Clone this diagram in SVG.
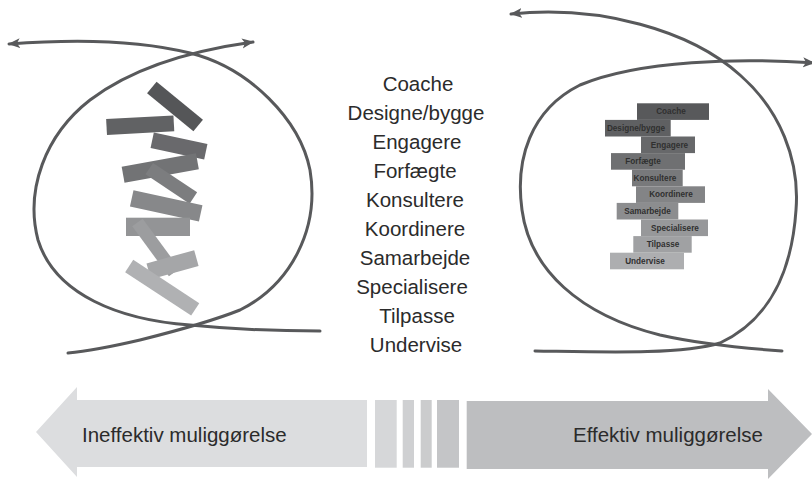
<svg xmlns="http://www.w3.org/2000/svg" width="812" height="479" viewBox="0 0 812 479">
<defs>
<marker id="ah" markerUnits="userSpaceOnUse" markerWidth="13" markerHeight="11" refX="11" refY="5.5" orient="auto-start-reverse">
<path d="M0,0.5 L12,5.5 L0,10.5 L3,5.5 z" fill="#58595b"/>
</marker>
<style>
.crv{fill:none;stroke:#58595b;stroke-width:3;stroke-linecap:round}
.lst{font-family:"Liberation Sans",Arial,sans-serif;font-size:20.5px;fill:#2b2b2b;text-anchor:middle}
.stk{font-family:"Liberation Sans",Arial,sans-serif;font-size:8.2px;font-weight:bold;fill:#303030;text-anchor:middle}
.big{font-family:"Liberation Sans",Arial,sans-serif;font-size:20.5px;fill:#2b2b2b}
</style>
</defs>
<rect width="812" height="479" fill="#ffffff"/>

<g id="connectors">
<path class="crv" marker-start="url(#ah)" d="M9,44 C60,40 130,38 190,53 C250,68 300,120 310,170 C320,230 290,285 240,310 C210,322 180,330 140,340 C110,347 90,351 68,353"/>
<path class="crv" marker-start="url(#ah)" d="M253,42 C210,48 140,62 90,100 C45,135 25,190 38,240 C55,295 120,320 190,325 C240,330 280,331 320,331"/>
<path class="crv" marker-start="url(#ah)" d="M511,14 C600,5 690,30 740,75 C780,110 800,160 796,210 C792,270 770,320 720,343 C680,355 600,352 535,351"/>
<path class="crv" marker-start="url(#ah)" d="M814,63 C740,58 640,60 580,85 C530,110 515,160 522,210 C530,270 580,315 660,335 C700,344 740,348 782,351"/>
</g>

<g id="left-pile">
<rect x="-30" y="-7.5" width="60" height="15" fill="#555658" transform="translate(175,106.5) rotate(39.4)"/>
<rect x="-33.7" y="-8" width="67.4" height="16" fill="#616264" transform="translate(140.2,125.2) rotate(-3.1)"/>
<rect x="-27.4" y="-7.9" width="54.8" height="15.8" fill="#69696c" transform="translate(179,146) rotate(11.9)"/>
<rect x="-37.7" y="-8.1" width="75.5" height="16.2" fill="#727375" transform="translate(160.2,168) rotate(-10.2)"/>
<rect x="-26.5" y="-6.8" width="53" height="13.6" fill="#7c7d7f" transform="translate(171.3,183.3) rotate(33.7)"/>
<rect x="-35.3" y="-8.3" width="70.6" height="16.6" fill="#87888a" transform="translate(166.2,205.8) rotate(12.3)"/>
<rect x="126" y="217.7" width="64" height="18.3" fill="#939496"/>
<rect x="-31" y="-6.5" width="62" height="13" fill="#9c9d9f" transform="translate(155.8,247.5) rotate(53.7)"/>
<rect x="-24.7" y="-8.2" width="49.5" height="16.4" fill="#a5a6a8" transform="translate(172.5,264.7) rotate(-15.6)"/>
<rect x="-39.5" y="-7.4" width="79" height="14.8" fill="#b0b1b3" transform="translate(162.2,287.7) rotate(33.3)"/>
</g>

<g id="middle-list">
<text class="lst" x="418" y="91">Coache</text>
<text class="lst" x="416" y="120">Designe/bygge</text>
<text class="lst" x="417" y="149">Engagere</text>
<text class="lst" x="415" y="178">Forfægte</text>
<text class="lst" x="415" y="207">Konsultere</text>
<text class="lst" x="415" y="236">Koordinere</text>
<text class="lst" x="415" y="265">Samarbejde</text>
<text class="lst" x="412" y="294">Specialisere</text>
<text class="lst" x="417" y="323">Tilpasse</text>
<text class="lst" x="416" y="352">Undervise</text>
</g>

<g id="right-stack">
<rect x="637" y="103.3" width="72" height="16.6" fill="#58595b"/>
<rect x="605" y="119.9" width="65.7" height="16.6" fill="#5f6062"/>
<rect x="641" y="136.5" width="54" height="16.6" fill="#67686a"/>
<rect x="611" y="153.1" width="74" height="16.6" fill="#6f7072"/>
<rect x="632" y="169.7" width="50.7" height="16.6" fill="#78797b"/>
<rect x="636" y="186.3" width="69" height="16.6" fill="#838486"/>
<rect x="616.7" y="202.9" width="61.6" height="16.6" fill="#8c8d8f"/>
<rect x="641" y="219.5" width="67" height="16.6" fill="#97989a"/>
<rect x="633.3" y="236.1" width="58.4" height="16.6" fill="#a0a1a3"/>
<rect x="610" y="252.7" width="74" height="16.6" fill="#adaeb0"/>
<text class="stk" x="671" y="114.4">Coache</text>
<text class="stk" x="636" y="131">Designe/bygge</text>
<text class="stk" x="669.5" y="147.6">Engagere</text>
<text class="stk" x="643" y="164.2">Forfægte</text>
<text class="stk" x="655" y="180.8">Konsultere</text>
<text class="stk" x="671" y="197.4">Koordinere</text>
<text class="stk" x="647.5" y="214">Samarbejde</text>
<text class="stk" x="675" y="230.6">Specialisere</text>
<text class="stk" x="663" y="247.2">Tilpasse</text>
<text class="stk" x="645" y="263.8">Undervise</text>
</g>

<g id="bottom-scale">
<polygon points="36,432 77,387 77,400 367,400 367,467 77,467 77,477" fill="#dcdddf"/>
<rect x="375" y="400" width="21.7" height="67.7" fill="#d6d7d9"/>
<rect x="402.7" y="400" width="11.3" height="67.7" fill="#cfd0d2"/>
<rect x="420.7" y="400" width="11" height="67.7" fill="#cbcccd"/>
<rect x="437" y="400" width="22" height="67.7" fill="#c4c5c7"/>
<polygon points="466.7,401 768,401 768,389 812,434 768,479 768,469 466.7,469" fill="#bdbec0"/>
<text class="big" x="82" y="442">Ineffektiv muliggørelse</text>
<text class="big" x="573" y="442">Effektiv muliggørelse</text>
</g>
</svg>
